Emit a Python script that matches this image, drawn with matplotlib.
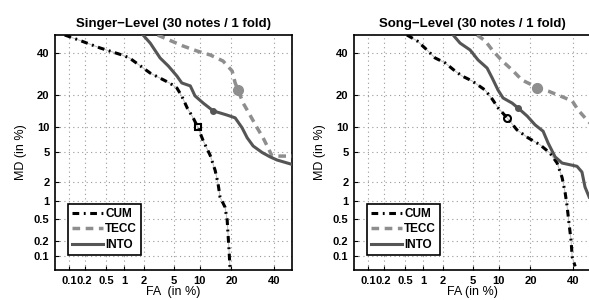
"""
DET curves for singer-level and song-level identification (30 notes / 1 fold).
Axes use the normal-deviate (probit) scale of a standard DET plot.
"""

from statistics import NormalDist

import numpy as np
import matplotlib
matplotlib.use('Agg')
import matplotlib.pyplot as plt
from matplotlib.ticker import FixedLocator, FixedFormatter, NullLocator

plt.rcParams['font.family'] = ['Liberation Sans', 'DejaVu Sans']

# --- Data (percent) ---
# Singer-level
singer_cum_fa = [0.08, 0.16, 0.385, 0.91, 1.2, 2.45, 4.5, 5.5, 6.3, 7.3, 8.5, 9.6,
                 10.9, 12.8, 14.3, 15.2, 15.9, 17.6, 18.4, 18.8, 19.1, 19.5]
singer_cum_md = [50, 47, 42.8, 39, 37.4, 29.7, 25, 22.9, 19.6, 15.3, 12.3, 9.7,
                 6.9, 4.6, 2.9, 1.9, 1.16, 0.8, 0.48, 0.23, 0.13, 0.05]
singer_tecc_fa = [3.1, 4.5, 6.5, 9.4, 12.8, 16.9, 20.3, 21.5, 22.7, 24.9, 28, 31.4,
                  34.4, 37, 39.1, 50]
singer_tecc_md = [50, 47, 43.9, 41.1, 39, 35.8, 30.7, 25.1, 22, 17, 13.1, 9.7,
                  7.5, 5.7, 4.5, 4.5]
singer_into_fa = [1.93, 2.45, 3.35, 4.3, 5.5, 6.3, 7.9, 8.9, 10.9, 13.7, 18.4, 21.5,
                  24.4, 26.7, 29.5, 33.9, 38, 41.8, 50]
singer_into_md = [50, 45.5, 37.4, 33.2, 28.3, 25.1, 23.8, 19.7, 17, 14.4, 13.1, 12.3,
                  9.7, 7.5, 6.0, 5.0, 4.4, 4.0, 3.5]

# Song-level
song_cum_fa = [0.53, 0.79, 1.14, 1.52, 2.14, 2.96, 3.67, 4.94, 7.1, 8.5, 9.9, 12.2,
               15.2, 19.1, 24, 28.5, 31.9, 34.4, 36, 37, 38, 39.1, 39.7, 41.3]
song_cum_md = [50, 46.7, 41.7, 37.4, 34.8, 30.7, 28.3, 26, 22, 18.5, 15.3, 12.3,
               9.2, 7.5, 6.2, 4.9, 3.65, 2.3, 1.35, 0.83, 0.42, 0.2, 0.094, 0.06]
song_tecc_fa = [5.7, 7.1, 8.7, 10.9, 13.7, 16.9, 20.7, 22.7, 27.6, 32.4, 39.7, 42.9,
                46.7, 50]
song_tecc_md = [50, 46.7, 41.1, 35.8, 31.2, 26.4, 24.2, 22.9, 21.6, 20, 17.8, 14.7,
                12.3, 10.6]
song_into_fa = [2.78, 3.45, 4.66, 5.85, 7.45, 8.5, 9.85, 11.1, 13.7, 15.6, 18.8, 21.9,
                25.3, 27.6, 30.9, 34.4, 42.3, 45, 46.7, 49]
song_into_md = [50, 45.5, 41.7, 36.3, 32.2, 27.4, 22, 18.9, 17, 15.3, 12.8, 10.4,
                8.9, 6.5, 4.4, 3.65, 3.3, 2.75, 1.66, 1.16]

# Operating points (FA, MD)
singer_points = {'CUM': (9.6, 9.8), 'TECC': (22.5, 22), 'INTO': (13.7, 14.4)}
song_points = {'CUM': (12.2, 12.3), 'TECC': (22.7, 23), 'INTO': (15.6, 15.3)}

tick_values = [0.1, 0.2, 0.5, 1, 2, 5, 10, 20, 40]
tick_labels = ['0.1', '0.2', '0.5', '1', '2', '5', '10', '20', '40']

# --- Probit scale ---
_nd = NormalDist()
_ppf = np.vectorize(_nd.inv_cdf, otypes=[float])
_cdf = np.vectorize(_nd.cdf, otypes=[float])


def probit(p):
    p = np.clip(np.asarray(p, dtype=float) / 100.0, 1e-9, 1 - 1e-9)
    return _ppf(p)


def inv_probit(z):
    return _cdf(np.asarray(z, dtype=float)) * 100.0


COL_CUM = 'black'
COL_TECC = '#8e8e8e'
COL_INTO = '#555555'

fig = plt.figure(figsize=(5.89, 3.0), dpi=100)
ax_left = fig.add_axes([55 / 589, 0.1, 237 / 589, 235 / 300])
ax_right = fig.add_axes([354 / 589, 0.1, 237 / 589, 235 / 300])

panels = [
    (ax_left, 'Singer\u2212Level (30 notes / 1 fold)', 'FA  (in %)',
     (singer_cum_fa, singer_cum_md), (singer_tecc_fa, singer_tecc_md),
     (singer_into_fa, singer_into_md), singer_points, 's'),
    (ax_right, 'Song\u2212Level (30 notes / 1 fold)', 'FA (in %)',
     (song_cum_fa, song_cum_md), (song_tecc_fa, song_tecc_md),
     (song_into_fa, song_into_md), song_points, 'o'),
]

for ax, title, xlabel, cum, tecc, into, points, cum_marker in panels:
    ax.set_xscale('function', functions=(probit, inv_probit))
    ax.set_yscale('function', functions=(probit, inv_probit))

    ax.plot(*cum, color='#bbbbbb', linewidth=0.7, zorder=2)
    ax.plot(*cum, color=COL_CUM, linewidth=2.2, dashes=(2.2, 1.5, 0.6, 1.5),
            label='CUM', zorder=3)
    ax.plot(*tecc, color=COL_TECC, linewidth=2.5, dashes=(2.2, 1.6),
            label='TECC', zorder=3)
    ax.plot(*into, color=COL_INTO, linewidth=2.2, label='INTO', zorder=3)

    ax.plot(*points['CUM'], marker=cum_marker, markersize=5, markerfacecolor='none',
            markeredgecolor='black', markeredgewidth=1.5, zorder=4)
    ax.plot(*points['TECC'], marker='o', markersize=7, color=COL_TECC, zorder=4)
    ax.plot(*points['INTO'], marker='o', markersize=4, color=COL_INTO, zorder=4)

    ax.set_xlim(0.05, 50)
    ax.set_ylim(0.05, 50)
    for axis in (ax.xaxis, ax.yaxis):
        axis.set_major_locator(FixedLocator(tick_values))
        axis.set_major_formatter(FixedFormatter(tick_labels))
        axis.set_minor_locator(NullLocator())

    ax.tick_params(direction='in', length=3, width=0.8, labelsize=8, pad=4)
    for lab in ax.get_xticklabels() + ax.get_yticklabels():
        lab.set_fontweight('bold')
    ax.grid(True, linestyle=(0, (1, 3)), color='#999999', linewidth=0.8)
    for sp in ax.spines.values():
        sp.set_linewidth(1.2)

    ax.set_title(title, fontsize=9.5, fontweight='bold', pad=6)
    ax.set_xlabel(xlabel, fontsize=9, labelpad=0)
    ax.set_ylabel('MD (in %)', fontsize=9, labelpad=5)

    leg = ax.legend(loc='lower left', bbox_to_anchor=(0.055, 0.064), borderaxespad=0,
                    fancybox=False, framealpha=1, edgecolor='black', handlelength=2.6,
                    handletextpad=0.2, labelspacing=0.3, borderpad=0.35,
                    prop={'weight': 'bold', 'size': 8.5})
    leg.get_frame().set_linewidth(1.2)

fig.savefig('out.png', dpi=100)
